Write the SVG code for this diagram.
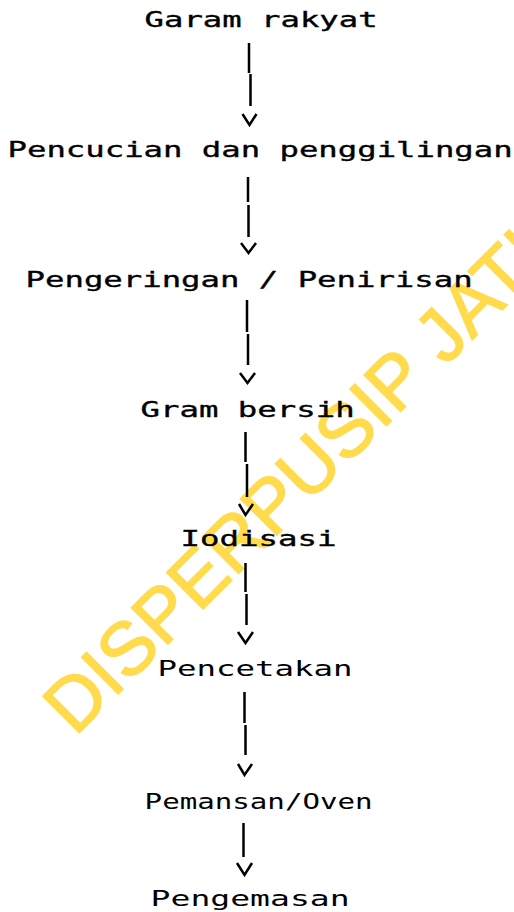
<svg xmlns="http://www.w3.org/2000/svg" width="514" height="912" viewBox="0 0 514 912">
<style>
.wm{font-family:"Liberation Sans",Arial,sans-serif;font-size:75px;fill:#FFDB4D;stroke:#FFDB4D;stroke-width:1.5}
.t{font-family:"DejaVu Sans Mono","Liberation Mono",monospace;font-size:22px;fill:#000}
.b{stroke:#000;stroke-width:0.35}
.c{fill:none;stroke:#000;stroke-width:2.5}
</style>
<rect width="514" height="912" fill="#fff"/>
<text class="wm" transform="translate(75,737) rotate(-45)">DISPERPUSIP JATIM</text>
<g id="connectors">
<path class="c" d="M249,43V73M250.5,74V106M242.5,114L249.5,125L256.5,114"/>
<path class="c" d="M248,177V202M248.5,205V237M241,243L248.5,253L256,243"/>
<path class="c" d="M247,300V332M248,334V365M240,373L247.5,383L255,373"/>
<path class="c" d="M245.5,432V462M247,464V497M239,504L245.5,515L253,504"/>
<path class="c" d="M245.5,563V592M246.5,594V625M238,632L245.5,643L253,632"/>
<path class="c" d="M244.5,692V723M245.5,725V755M238,764L244.5,775L252,764"/>
<path class="c" d="M243.5,823V857M237,863L244.5,875L252,863"/>
</g>
<g id="n1"><text class="t b" x="144.6" y="27" textLength="233" lengthAdjust="spacingAndGlyphs">Garam rakyat</text></g>
<g id="n2"><text class="t b" x="7.6" y="157" textLength="505" lengthAdjust="spacingAndGlyphs">Pencucian dan penggilingan</text></g>
<g id="n3"><text class="t b" x="25.6" y="287" textLength="447" lengthAdjust="spacingAndGlyphs">Pengeringan / Penirisan</text></g>
<g id="n4"><text class="t b" x="140.6" y="417" textLength="214" lengthAdjust="spacingAndGlyphs">Gram bersih</text></g>
<g id="n5"><text class="t b" x="180.6" y="546" textLength="156" lengthAdjust="spacingAndGlyphs">Iodisasi</text></g>
<g id="n6"><text class="t" x="157.6" y="676" textLength="195" lengthAdjust="spacingAndGlyphs">Pencetakan</text></g>
<g id="n7"><text class="t" x="144.6" y="809" textLength="228" lengthAdjust="spacingAndGlyphs">Pemansan/Oven</text></g>
<g id="n8"><text class="t" x="150.6" y="906" textLength="199" lengthAdjust="spacingAndGlyphs">Pengemasan</text></g>
</svg>
